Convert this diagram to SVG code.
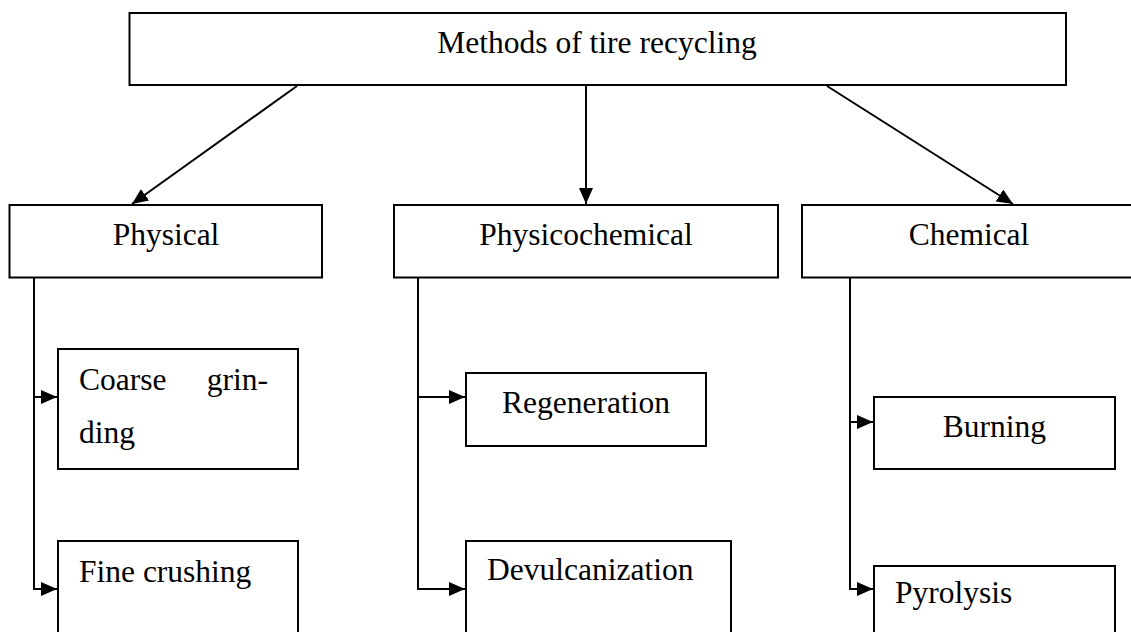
<svg xmlns="http://www.w3.org/2000/svg" width="1131" height="632" viewBox="0 0 1131 632">
<style>
.box{fill:#fff;stroke:#000;stroke-width:2}
.t{font-family:"Liberation Serif","Times New Roman",serif;font-size:31.5px;fill:#000}
.c{text-anchor:middle}
.ln{fill:none;stroke:#000;stroke-width:2}
</style>
<defs>
<marker id="ah" viewBox="0 0 16 14" refX="16" refY="7" markerWidth="16" markerHeight="14" markerUnits="userSpaceOnUse" orient="auto">
<path d="M0,0 L16,7 L0,14 z" fill="#000"/>
</marker>
</defs>
<rect width="1131" height="632" fill="#fff"/>
<g id="root"><rect class="box" x="129.5" y="13" width="936.5" height="72"/><text class="t c" x="597" y="52.5">Methods of tire recycling</text></g>
<g id="physical"><rect class="box" x="9.5" y="205" width="312.5" height="72.5"/><text class="t c" x="166" y="245">Physical</text></g>
<g id="physicochemical"><rect class="box" x="394" y="205" width="384" height="72.5"/><text class="t c" x="586" y="244.5">Physicochemical</text></g>
<g id="chemical"><rect class="box" x="802" y="205" width="340" height="72.5"/><text class="t c" x="969" y="245">Chemical</text></g>
<g id="coarse"><rect class="box" x="58" y="349" width="240" height="120"/><text class="t" x="79" y="390">Coarse</text><text class="t" x="268" y="390" text-anchor="end">grin-</text><text class="t" x="79" y="443">ding</text></g>
<g id="fine"><rect class="box" x="58" y="541" width="240" height="110"/><text class="t" x="79" y="582">Fine crushing</text></g>
<g id="regeneration"><rect class="box" x="466" y="373" width="240" height="73"/><text class="t c" x="586" y="413">Regeneration</text></g>
<g id="devulcanization"><rect class="box" x="466" y="541" width="265" height="110"/><text class="t" x="487" y="580">Devulcanization</text></g>
<g id="burning"><rect class="box" x="874" y="397" width="241" height="72"/><text class="t c" x="994.5" y="437">Burning</text></g>
<g id="pyrolysis"><rect class="box" x="874" y="566" width="241" height="90"/><text class="t" x="895" y="603">Pyrolysis</text></g>
<g id="connectors" class="ln">
<line x1="297" y1="86" x2="132" y2="204" marker-end="url(#ah)"/>
<line x1="586" y1="86" x2="586" y2="204" marker-end="url(#ah)"/>
<line x1="827" y1="86" x2="1013" y2="204" marker-end="url(#ah)"/>
<polyline points="34,278 34,589 57,589" marker-end="url(#ah)"/>
<line x1="34" y1="397" x2="57" y2="397" marker-end="url(#ah)"/>
<polyline points="418,278 418,589 465,589" marker-end="url(#ah)"/>
<line x1="418" y1="397" x2="465" y2="397" marker-end="url(#ah)"/>
<polyline points="850,278 850,589 873,589" marker-end="url(#ah)"/>
<line x1="850" y1="422" x2="873" y2="422" marker-end="url(#ah)"/>
</g>
</svg>
